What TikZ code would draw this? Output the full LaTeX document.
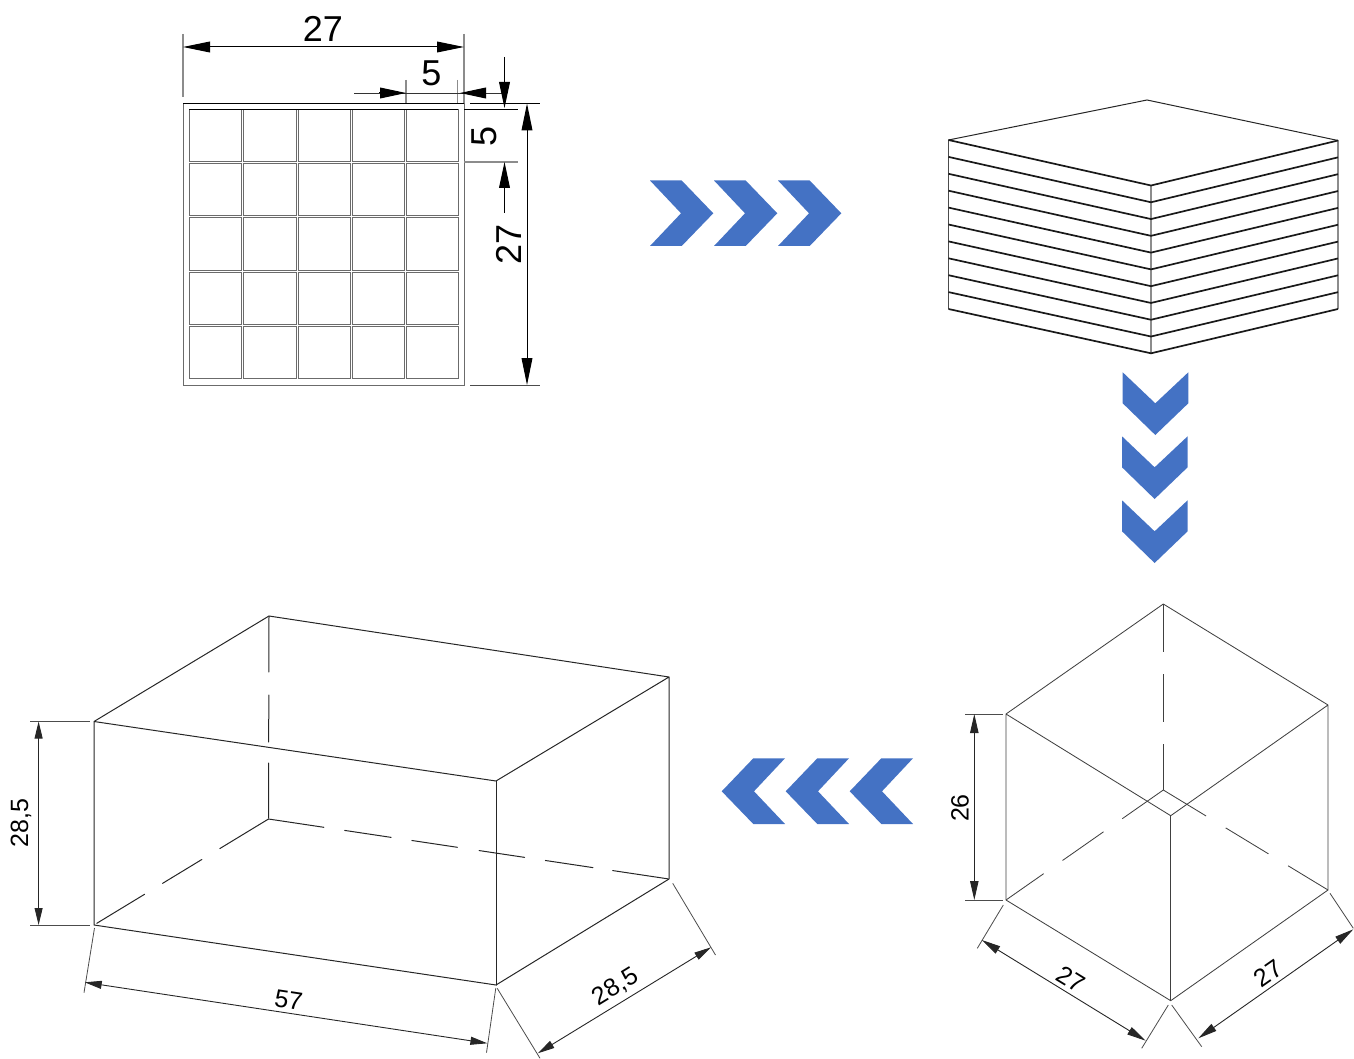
\documentclass[tikz,border=0pt]{standalone}
\usepackage{fontspec}
\setmainfont{Liberation Sans}
\usetikzlibrary{arrows.meta}
\definecolor{chev}{HTML}{4472C4}
\tikzset{
  px/.style={x=0.5pt,y=-0.5pt},
  edge/.style={draw=black!85,line width=0.5pt,line cap=round},
  thin edge/.style={draw=black!75,line width=0.42pt},
  ext/.style={draw=black!70,line width=0.4pt},
  extgray/.style={draw=black!45,line width=0.55pt},
  cell/.style={draw=black!58,line width=0.36pt},
  bigdim/.style={draw=black,line width=0.5pt,{Triangle[length=13.5pt,width=5.4pt]}-{Triangle[length=13.5pt,width=5.4pt]}},
  bigtipend/.style={draw=black,line width=0.5pt,-{Triangle[length=13pt,width=5.4pt]}},
  smalldim/.style={draw=black!85,line width=0.45pt,{Triangle[length=9.5pt,width=4.2pt]}-{Triangle[length=9.5pt,width=4.2pt]}},
  boxdim/.style={draw=black!85,line width=0.45pt,{Triangle[length=8.5pt,width=4pt]}-{Triangle[length=8.5pt,width=4pt]}},
  biglabel/.style={inner sep=0pt,font=\fontsize{18}{18}\selectfont,text=black},
  smalllabel/.style={inner sep=0pt,font=\fontsize{12.5}{12.5}\selectfont,text=black},
  chevron/.style={fill=chev,draw=none},
}
\begin{document}
\begin{tikzpicture}[px]
\useasboundingbox (0,0) rectangle (1354,1059);
% ---------- grid plate
\draw[cell,line width=0.45pt] (183,103.5) rectangle (464,385);
\foreach \xa/\xb in {189/241,243/296,298/350,352/404,406/458}
  \foreach \ya/\yb in {109.5/161,163/215,217/270,272/324,326/378}
    \draw[cell] (\xa,\ya) rectangle (\xb,\yb);
\draw[draw=black,line width=0.5pt] (183,103.5) -- (464,103.5);
\draw[draw=black,line width=0.45pt] (189,109.5) -- (458,109.5);
% dimension 27 (top)
\coordinate (t27a) at (183,47); \coordinate (t27b) at (464,47);
\draw[extgray] (183,34) -- (183,97);
\draw[extgray] (464,34) -- (464,103);
\draw[bigdim] (t27a) -- (t27b);
\node[biglabel] (lt27) at (323,29) {27};
% dimension 5 (top)
\coordinate (t5l) at (354,93); \coordinate (t5a) at (406,93);
\coordinate (t5b) at (460,93); \coordinate (t5r) at (503,93);
\draw[extgray] (406,80) -- (406,103);
\draw[extgray] (457.5,80) -- (457.5,103);
\draw[draw=black!80,line width=0.45pt] (t5l) -- (t5r);
\draw[bigtipend] (379,93) -- (t5a);
\draw[bigtipend] (485,93) -- (t5b);
\node[biglabel] (lt5) at (431.5,73) {5};
% dimension 5 (right)
\coordinate (r5t) at (504.5,57); \coordinate (r5a) at (504.5,108);
\coordinate (r5b) at (504.5,162); \coordinate (r5e) at (504.5,213);
\draw[draw=black,line width=0.5pt] (464,109.5) -- (518,109.5);
\draw[extgray] (464,162) -- (518,162);
\draw[bigtipend] (r5t) -- (r5a);
\draw[bigtipend] (r5e) -- (r5b);
\node[biglabel,rotate=90] (lr5) at (484,136) {5};
% dimension 27 (right)
\coordinate (r27a) at (527,103.5); \coordinate (r27b) at (527,385);
\draw[draw=black,line width=0.45pt] (470,103.5) -- (540,103.5);
\draw[ext] (470,385) -- (540,385);
\draw[bigdim] (r27a) -- (r27b);
\node[biglabel,rotate=90] (lr27) at (509,244) {27};
% ---------- stack of sheets
\coordinate (sa) at (1147,100);
\coordinate (sl) at (948.5,140);
\coordinate (sr) at (1338,140.5);
\coordinate (sf) at (1151,185.5);
\draw[edge] (sl) -- (sa) -- (sr);
\draw[extgray] (1151,185.5) -- (1151,353.5);
\draw[extgray] (1338,140.5) -- (1338,309);
\draw[ext] (948.5,140) -- (948.5,309);
\foreach \i in {0,...,10}
  \draw[draw=black!90,line width=0.85pt,line join=round]
    (948.5,140+16.9*\i) -- (1151,185.5+16.78*\i) -- (1338,140.5+16.85*\i);
% ---------- chevrons
\foreach \d/\s in {0/0,64/-0.7,128/-0.7}{
  \fill[chevron,shift={(\d,0)}] (650,180.5) -- (681.7,180.5) -- (713.3,213.3) -- (681.7,246) -- (650,246) -- (681,213.3) -- cycle;
  \fill[chevron,shift={(\s,\d)}] (1122.7,372.3) -- (1155.3,403.3) -- (1188.3,372.3) -- (1188.3,403.3) -- (1155.3,435) -- (1122.7,403.3) -- cycle;
  \fill[chevron,shift={(\d,0)}] (721.7,791.3) -- (753.3,758.3) -- (785,758.3) -- (754,791.3) -- (785,824) -- (753.3,824) -- cycle;
}
% ---------- cube
\coordinate (ca) at (1163.3,604);
\coordinate (cr) at (1328,705);
\coordinate (cl) at (1006,714);
\coordinate (cf) at (1170.7,815.7);
\coordinate (cb) at (1163.3,790);
\coordinate (cfb) at (1170.7,1000.7);
\coordinate (clb) at (1006,900);
\coordinate (crb) at (1328,890);
\draw[thin edge,line join=round] (cl) -- (ca) -- (cr) -- (cf) -- (cl) -- (clb) -- (cfb) -- (crb) -- (cr);
\draw[thin edge] (cf) -- (cfb);
\draw[thin edge,dash pattern=on 24pt off 11pt] (ca) -- (cb);
\draw[thin edge,dash pattern=on 25pt off 11.5pt] (cb) -- (clb);
\draw[thin edge,dash pattern=on 25pt off 11.5pt] (cb) -- (crb);
% cube dimensions
\draw[ext] (965,714) -- (1003,714);
\draw[ext] (965,900) -- (1003,900);
\coordinate (c26a) at (974.3,714); \coordinate (c26b) at (974.3,900);
\draw[smalldim] (c26a) -- (c26b);
\node[smalllabel,rotate=90] (lc26) at (960,808) {26};
\draw[ext] (1003.3,905) -- (977.3,948.3);
\draw[ext] (1168.3,1005) -- (1141.7,1048.3);
\coordinate (c27a) at (981.7,940); \coordinate (c27b) at (1145.7,1040.7);
\draw[smalldim] (c27a) -- (c27b);
\node[smalllabel,rotate=-31.5] (lc27a) at (1070.7,979.3) {27};
\draw[ext] (1171.7,1005) -- (1201.7,1046.7);
\draw[ext] (1330,893.3) -- (1353.3,928.3);
\coordinate (c27c) at (1198.3,1038.3); \coordinate (c27d) at (1353.3,929.3);
\draw[smalldim] (c27c) -- (c27d);
\node[smalllabel,rotate=35] (lc27b) at (1268.3,973.3) {27};
% ---------- box
\coordinate (ba) at (269,616);
\coordinate (br) at (669,677);
\coordinate (bl) at (94,721.5);
\coordinate (bf) at (496,781);
\coordinate (bb) at (268.5,819);
\coordinate (brb) at (669,879);
\coordinate (blb) at (94,925);
\coordinate (bfb) at (496,985);
\draw[edge,line join=round] (bl) -- (ba) -- (br) -- (bf) -- (bl) -- (blb) -- (bfb) -- (brb) -- (br);
\draw[edge] (bf) -- (bfb);
\draw[edge,dash pattern=on 28pt off 11.5pt on 23.5pt off 10.5pt on 27.5pt off 100pt] (ba) -- (bb);
\draw[edge,dash pattern=on 28.5pt off 10.5pt on 23pt off 10.5pt on 28pt off 100pt] (bb) -- (blb);
\draw[edge,dash pattern=on 28pt off 10.5pt on 23.5pt off 10.5pt on 23pt off 11pt on 23pt off 10.5pt on 24pt off 10pt on 28pt off 100pt] (bb) -- (brb);
% box dimensions
\draw[ext] (30,721.5) -- (90,721.5);
\draw[ext] (30,925) -- (90,925);
\coordinate (b28a) at (38.6,721.5); \coordinate (b28b) at (38.6,925);
\draw[boxdim] (b28a) -- (b28b);
\node[smalllabel,rotate=90] (lb28a) at (21,823) {28,5};
\draw[ext] (94.5,928) -- (84,992.7);
\draw[ext] (495.8,988) -- (486.5,1052.7);
\coordinate (b57a) at (84.7,982.3); \coordinate (b57b) at (487.4,1043.3);
\draw[boxdim] (b57a) -- (b57b);
\node[smalllabel,rotate=-8.6] (lb57) at (288.6,1000) {57};
\draw[ext] (497.2,988.3) -- (540,1058.3);
\draw[ext] (672.7,883.3) -- (715.5,955);
\coordinate (b28c) at (537.7,1053.3); \coordinate (b28d) at (711,947.3);
\draw[boxdim] (b28c) -- (b28d);
\node[smalllabel,rotate=31.5] (lb28b) at (615.5,987.3) {28,5};
\end{tikzpicture}
\end{document}
